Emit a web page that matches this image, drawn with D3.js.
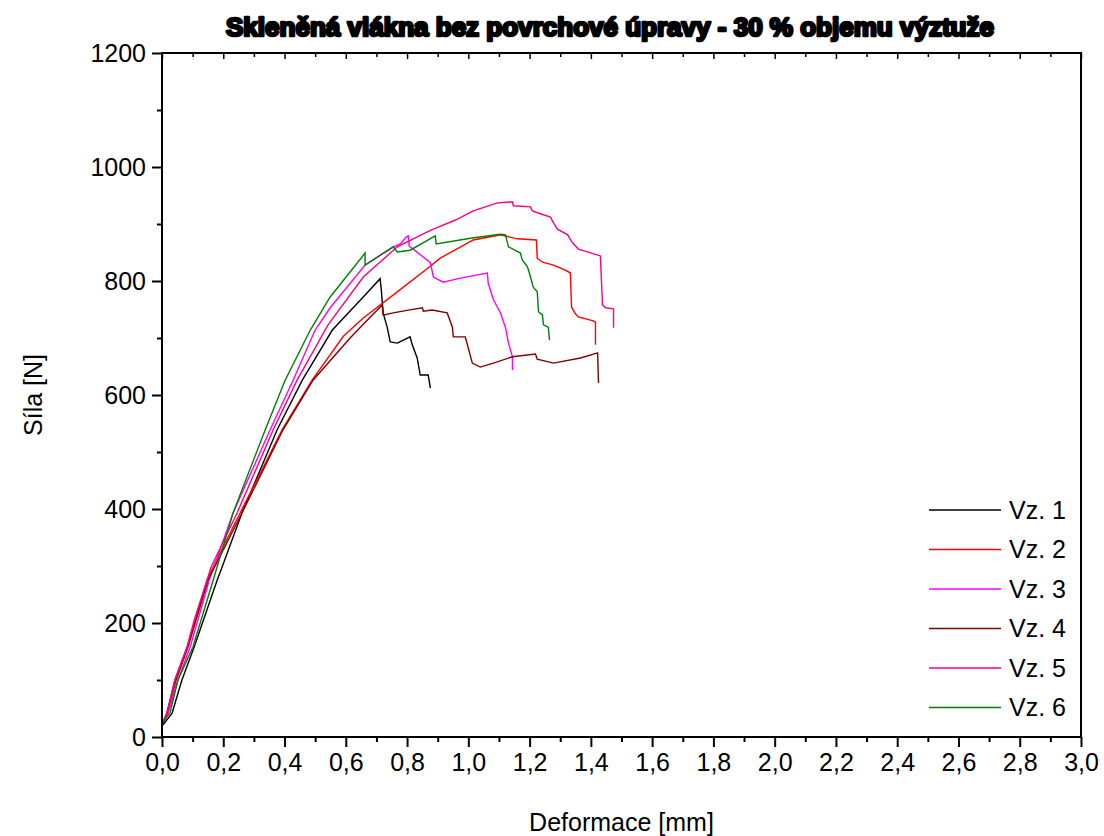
<!DOCTYPE html>
<html>
<head>
<meta charset="utf-8">
<script src="https://cdn.jsdelivr.net/npm/d3@7"></script>
<style>
  html, body { margin: 0; padding: 0; background: #fff; }
  svg { display: block; }
  text { font-family: "Liberation Sans", Arial, sans-serif; fill: #000; }
</style>
</head>
<body>
<svg id="chart" width="1104" height="836"></svg>
<script>
// ---- Data (deformation [mm], force [N]) ----
const seriesNames = ["Vz. 1", "Vz. 2", "Vz. 3", "Vz. 4", "Vz. 5", "Vz. 6"];
const seriesColors = ["#000000", "#ff0000", "#ff00ff", "#800000", "#ff0080", "#008000"];

const vz1 = [[0.003,21],[0.033,42],[0.065,100],[0.105,158],[0.180,275],[0.196,298],[0.261,393],[0.376,539],[0.458,626],[0.556,714],[0.657,772],[0.712,804],[0.716,784],[0.722,744],[0.735,719],[0.745,693],[0.768,691],[0.810,702],[0.817,688],[0.833,665],[0.843,635],[0.869,635],[0.876,612]];

const vz2 = [[0.003,26],[0.016,42],[0.042,100],[0.082,158],[0.108,205],[0.147,275],[0.167,298],[0.255,393],[0.392,539],[0.490,626],[0.592,703],[0.657,735],[0.768,781],[0.876,826],[0.908,840],[1.016,872],[1.105,881],[1.160,874],[1.222,872],[1.225,840],[1.242,833],[1.278,828],[1.317,819],[1.333,814],[1.337,754],[1.350,742],[1.359,737],[1.408,730],[1.415,728],[1.415,688]];

const vz3 = [[0.003,26],[0.020,42],[0.052,100],[0.092,158],[0.154,275],[0.232,393],[0.353,539],[0.428,626],[0.500,714],[0.549,753],[0.663,828],[0.755,860],[0.778,865],[0.797,877],[0.804,879],[0.807,861],[0.820,856],[0.876,832],[0.886,807],[0.918,798],[0.974,805],[1.062,814],[1.065,796],[1.082,767],[1.105,744],[1.121,719],[1.131,691],[1.144,667],[1.144,644]];

const vz4 = [[0.003,21],[0.016,42],[0.046,100],[0.085,158],[0.150,275],[0.261,393],[0.395,539],[0.493,626],[0.614,700],[0.657,724],[0.719,758],[0.722,740],[0.755,744],[0.804,749],[0.850,753],[0.853,747],[0.882,749],[0.931,744],[0.948,719],[0.951,702],[0.990,702],[1.000,682],[1.013,656],[1.039,649],[1.082,656],[1.144,667],[1.219,672],[1.225,663],[1.278,656],[1.366,665],[1.422,674],[1.425,621]];

const vz5 = [[0.003,26],[0.016,42],[0.042,100],[0.082,158],[0.105,205],[0.147,275],[0.160,298],[0.245,393],[0.363,539],[0.441,626],[0.542,723],[0.657,807],[0.768,860],[0.876,889],[0.958,907],[1.016,923],[1.095,937],[1.144,939],[1.147,932],[1.203,930],[1.209,923],[1.235,918],[1.268,912],[1.278,902],[1.291,891],[1.324,881],[1.340,867],[1.359,856],[1.389,851],[1.431,844],[1.438,758],[1.448,753],[1.474,751],[1.474,718]];

const vz6 = [[0.003,26],[0.026,42],[0.052,100],[0.101,158],[0.167,275],[0.232,393],[0.337,539],[0.402,626],[0.484,714],[0.549,772],[0.663,849],[0.663,828],[0.755,860],[0.768,851],[0.810,854],[0.892,879],[0.895,865],[1.007,875],[1.105,882],[1.121,881],[1.131,860],[1.170,849],[1.176,837],[1.193,825],[1.203,807],[1.212,789],[1.225,781],[1.229,746],[1.242,740],[1.245,723],[1.261,719],[1.265,696]];

const xMajorTicks = [0,0.2,0.4,0.6,0.8,1.0,1.2,1.4,1.6,1.8,2.0,2.2,2.4,2.6,2.8,3.0];
const yMajorTicks = [0,200,400,600,800,1000,1200];

const titleText = "Skleněná vlákna bez povrchové úpravy - 30 % objemu výztuže";
const xTitle = "Deformace [mm]";
const yTitle = "Síla [N]";

// ---- Layout ----
const W = 1104, H = 836;
const margin = {left: 162, right: 23, top: 53, bottom: 99};
const iw = W - margin.left - margin.right;
const ih = H - margin.top - margin.bottom;

const svg = d3.select("#chart");
const g = svg.append("g").attr("transform", `translate(${margin.left},${margin.top})`);

const x = d3.scaleLinear().domain([0, 3]).range([0, iw]);
const y = d3.scaleLinear().domain([0, 1200]).range([ih, 0]);

const fmtX = d => d3.format(".1f")(d).replace(".", ",");

// minor ticks
const xMinor = d3.range(0, 31).map(i => i / 10).filter(v => Math.round(v * 10) % 2 === 1);
const yMinor = d3.range(100, 1200, 200);

// bottom axis
const xAxis = d3.axisBottom(x).tickValues(xMajorTicks).tickFormat(fmtX).tickSize(10).tickPadding(6);
const gx = g.append("g").attr("transform", `translate(0,${ih})`).call(xAxis);
gx.select(".domain").remove();
gx.selectAll(".tick line").attr("stroke", "#000").attr("stroke-width", 2);
gx.selectAll(".tick text").attr("font-size", 25).attr("font-family", "Liberation Sans, Arial, sans-serif");
const gxm = g.append("g").attr("transform", `translate(0,${ih})`)
  .call(d3.axisBottom(x).tickValues(xMinor).tickFormat("").tickSize(5));
gxm.select(".domain").remove();
gxm.selectAll(".tick line").attr("stroke", "#000").attr("stroke-width", 2);

// top axis (inward ticks)
const gt = g.append("g").call(d3.axisBottom(x).tickValues(xMajorTicks).tickFormat("").tickSize(6));
gt.select(".domain").remove();
gt.selectAll(".tick line").attr("stroke", "#000").attr("stroke-width", 1.5);
const gtm = g.append("g").call(d3.axisBottom(x).tickValues(xMinor).tickFormat("").tickSize(4));
gtm.select(".domain").remove();
gtm.selectAll(".tick line").attr("stroke", "#000").attr("stroke-width", 1.5);

// left axis
const yAxis = d3.axisLeft(y).tickValues(yMajorTicks).tickFormat(d3.format("d")).tickSize(10).tickPadding(6);
const gy = g.append("g").call(yAxis);
gy.select(".domain").remove();
gy.selectAll(".tick line").attr("stroke", "#000").attr("stroke-width", 2);
gy.selectAll(".tick text").attr("font-size", 25).attr("font-family", "Liberation Sans, Arial, sans-serif");
const gym = g.append("g").call(d3.axisLeft(y).tickValues(yMinor).tickFormat("").tickSize(5));
gym.select(".domain").remove();
gym.selectAll(".tick line").attr("stroke", "#000").attr("stroke-width", 2);

// curves
const line = d3.line().x(d => x(d[0])).y(d => y(d[1])).curve(d3.curveLinear);
const allSeries = [vz1, vz2, vz3, vz4, vz5, vz6];
const plot = g.append("g");
allSeries.forEach((s, i) => {
  plot.append("path").datum(s)
    .attr("d", line)
    .attr("fill", "none")
    .attr("stroke", seriesColors[i])
    .attr("stroke-width", 1.4)
    .attr("stroke-linejoin", "miter");
});

// frame
g.append("rect").attr("x", 0).attr("y", 0).attr("width", iw).attr("height", ih)
  .attr("fill", "none").attr("stroke", "#000").attr("stroke-width", 2);

// legend
const legend = svg.append("g");
const legY0 = 510, legDy = 39.5;
seriesNames.forEach((name, i) => {
  const yy = legY0 + i * legDy;
  legend.append("line").attr("x1", 929).attr("x2", 1001).attr("y1", yy).attr("y2", yy)
    .attr("stroke", seriesColors[i]).attr("stroke-width", 1.4);
  legend.append("text").attr("x", 1009).attr("y", yy).attr("dy", "0.35em")
    .attr("font-size", 25).text(name);
});

// titles
svg.append("text").attr("x", 610).attr("y", 36).attr("text-anchor", "middle")
  .attr("font-size", 25).attr("font-weight", "bold")
  .attr("stroke", "#000").attr("stroke-width", 2.6).attr("stroke-linejoin", "round")
  .attr("textLength", 768).attr("lengthAdjust", "spacingAndGlyphs")
  .text(titleText);

svg.append("text").attr("x", margin.left + iw / 2).attr("y", 831).attr("text-anchor", "middle")
  .attr("font-size", 25).text(xTitle);

svg.append("text").attr("transform", `translate(42,${margin.top + ih / 2}) rotate(-90)`)
  .attr("text-anchor", "middle").attr("font-size", 25).text(yTitle);
</script>
</body>
</html>
